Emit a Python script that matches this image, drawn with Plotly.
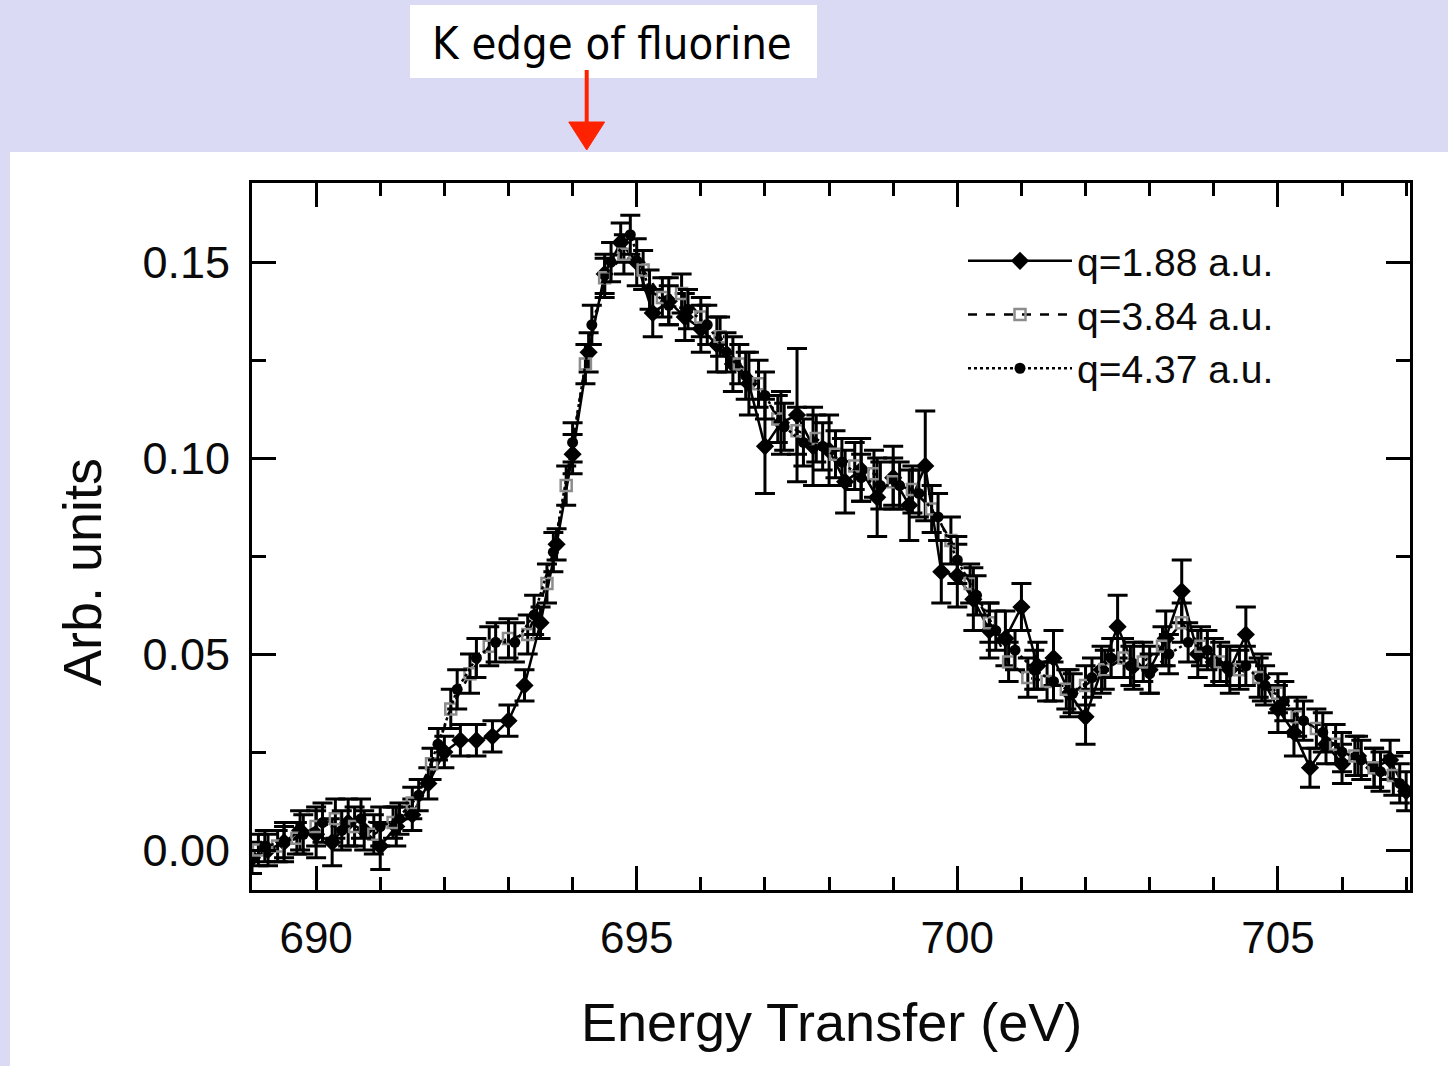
import plotly.graph_objects as go

# ---- spectra: energy transfer (eV), intensity (arb. units), 1-sigma errors ----
energy_q188 = [689.00, 689.25, 689.50, 689.75, 690.00, 690.25, 690.50, 690.75, 691.00, 691.25,
               691.50, 691.75, 692.00, 692.25, 692.50, 692.75, 693.00, 693.25, 693.50, 693.75,
               694.00, 694.25, 694.50, 694.75, 695.00, 695.25, 695.50, 695.75, 696.00, 696.25,
               696.50, 696.75, 697.00, 697.25, 697.50, 697.75, 698.00, 698.25, 698.50, 698.75,
               699.00, 699.25, 699.50, 699.75, 700.00, 700.25, 700.50, 700.75, 701.00, 701.25,
               701.50, 701.75, 702.00, 702.25, 702.50, 702.75, 703.00, 703.25, 703.50, 703.75,
               704.00, 704.25, 704.50, 704.75, 705.00, 705.25, 705.50, 705.75, 706.00, 706.25,
               706.50, 706.75, 707.00]
signal_q188 = [-0.002, 0.000, 0.002, 0.005, 0.004, 0.002, 0.007, 0.005, 0.001, 0.006,
               0.009, 0.017, 0.025, 0.028, 0.028, 0.029, 0.033, 0.042, 0.058, 0.078,
               0.101, 0.127, 0.147, 0.155, 0.150, 0.137, 0.140, 0.136, 0.133, 0.129,
               0.124, 0.119, 0.103, 0.109, 0.111, 0.103, 0.102, 0.094, 0.097, 0.090,
               0.095, 0.088, 0.098, 0.071, 0.070, 0.064, 0.056, 0.054, 0.062, 0.047,
               0.049, 0.040, 0.034, 0.046, 0.057, 0.047, 0.046, 0.054, 0.066, 0.050,
               0.048, 0.046, 0.055, 0.044, 0.036, 0.030, 0.021, 0.027, 0.022, 0.024,
               0.021, 0.023, 0.015]
error_q188 = [0.004, 0.004, 0.005, 0.005, 0.006, 0.006, 0.006, 0.005, 0.006, 0.005,
              0.004, 0.004, 0.004, 0.004, 0.004, 0.004, 0.004, 0.004, 0.004, 0.004,
              0.005, 0.005, 0.005, 0.005, 0.006, 0.006, 0.006, 0.006, 0.006, 0.007,
              0.007, 0.008, 0.012, 0.008, 0.017, 0.010, 0.009, 0.008, 0.008, 0.010,
              0.008, 0.009, 0.014, 0.008, 0.008, 0.008, 0.007, 0.007, 0.006, 0.006,
              0.007, 0.006, 0.007, 0.006, 0.008, 0.006, 0.006, 0.007, 0.008, 0.006,
              0.006, 0.006, 0.007, 0.006, 0.006, 0.006, 0.005, 0.005, 0.005, 0.005,
              0.005, 0.005, 0.005]

energy_q384 = [689.1, 689.4, 689.7, 690.0, 690.3, 690.6, 690.9, 691.2, 691.5, 691.8,
               692.1, 692.4, 692.7, 693.0, 693.3, 693.6, 693.9, 694.2, 694.5, 694.8,
               695.1, 695.4, 695.7, 696.0, 696.3, 696.6, 696.9, 697.2, 697.5, 697.8,
               698.1, 698.4, 698.7, 699.0, 699.3, 699.6, 699.9, 700.2, 700.5, 700.8,
               701.1, 701.4, 701.7, 702.0, 702.3, 702.6, 702.9, 703.2, 703.5, 703.8,
               704.1, 704.4, 704.7, 705.0, 705.3, 705.6, 705.9, 706.2, 706.5, 706.8]
signal_q384 = [0.000, 0.001, 0.003, 0.006, 0.008, 0.006, 0.004, 0.007, 0.012, 0.022,
               0.036, 0.045, 0.052, 0.054, 0.055, 0.068, 0.093, 0.124, 0.146, 0.152,
               0.148, 0.141, 0.142, 0.136, 0.131, 0.124, 0.119, 0.110, 0.107, 0.105,
               0.101, 0.098, 0.096, 0.094, 0.092, 0.087, 0.079, 0.068, 0.058, 0.048,
               0.044, 0.043, 0.041, 0.042, 0.046, 0.049, 0.048, 0.052, 0.058, 0.052,
               0.048, 0.046, 0.044, 0.040, 0.034, 0.031, 0.027, 0.024, 0.021, 0.019]
error_q384 = [0.004, 0.004, 0.004, 0.005, 0.005, 0.005, 0.005, 0.004, 0.004, 0.004,
              0.005, 0.005, 0.005, 0.005, 0.005, 0.005, 0.005, 0.005, 0.005, 0.005,
              0.005, 0.005, 0.005, 0.005, 0.005, 0.005, 0.006, 0.006, 0.006, 0.006,
              0.006, 0.006, 0.006, 0.006, 0.006, 0.006, 0.006, 0.005, 0.005, 0.005,
              0.005, 0.005, 0.005, 0.005, 0.005, 0.005, 0.005, 0.005, 0.005, 0.005,
              0.005, 0.005, 0.005, 0.005, 0.005, 0.005, 0.005, 0.005, 0.005, 0.005]

energy_q437 = [689.2, 689.5, 689.8, 690.1, 690.4, 690.7, 691.0, 691.3, 691.6, 691.9,
               692.2, 692.5, 692.8, 693.1, 693.4, 693.7, 694.0, 694.3, 694.6, 694.9,
               695.2, 695.5, 695.8, 696.1, 696.4, 696.7, 697.0, 697.3, 697.6, 697.9,
               698.2, 698.5, 698.8, 699.1, 699.4, 699.7, 700.0, 700.3, 700.6, 700.9,
               701.2, 701.5, 701.8, 702.1, 702.4, 702.7, 703.0, 703.3, 703.6, 703.9,
               704.2, 704.5, 704.8, 705.1, 705.4, 705.7, 706.0, 706.3, 706.6, 706.9]
signal_q437 = [0.001, 0.002, 0.004, 0.007, 0.005, 0.008, 0.006, 0.008, 0.014, 0.027,
               0.041, 0.049, 0.053, 0.053, 0.060, 0.076, 0.104, 0.134, 0.150, 0.157,
               0.143, 0.139, 0.138, 0.134, 0.127, 0.121, 0.116, 0.108, 0.104, 0.103,
               0.099, 0.095, 0.093, 0.093, 0.091, 0.085, 0.074, 0.065, 0.056, 0.051,
               0.046, 0.043, 0.040, 0.044, 0.049, 0.047, 0.045, 0.050, 0.053, 0.051,
               0.047, 0.047, 0.042, 0.038, 0.033, 0.030, 0.025, 0.023, 0.020, 0.017]
error_q437 = [0.004, 0.004, 0.005, 0.005, 0.005, 0.005, 0.005, 0.004, 0.004, 0.004,
              0.005, 0.005, 0.005, 0.005, 0.005, 0.005, 0.005, 0.005, 0.005, 0.005,
              0.005, 0.005, 0.005, 0.005, 0.005, 0.006, 0.006, 0.006, 0.006, 0.006,
              0.006, 0.006, 0.006, 0.006, 0.006, 0.006, 0.006, 0.005, 0.005, 0.005,
              0.005, 0.005, 0.005, 0.005, 0.005, 0.005, 0.005, 0.005, 0.005, 0.005,
              0.005, 0.005, 0.005, 0.005, 0.005, 0.005, 0.005, 0.005, 0.005, 0.005]

series_names = ["q=1.88 a.u.", "q=3.84 a.u.", "q=4.37 a.u."]
x_tick_values = [690, 695, 700, 705]
y_tick_values = [0.00, 0.05, 0.10, 0.15]
y_tick_labels = ["0.00", "0.05", "0.10", "0.15"]
k_edge_ev = 694.22
k_edge_label = "K edge of fluorine"

# ---- page geometry ----
W, H = 1448, 1066
ML, MR, MT, MB = 252, 38, 183, 176
PW, PH = W - ML - MR, H - MT - MB


def paper_x(px):
    return (px - ML) / PW


def paper_y(py):
    return (H - MB - py) / PH


LAVENDER = "#dadaf5"
RED = "#ff2200"
INK = "#0a0a0a"

fig = go.Figure()

styles = [
    dict(symbol="diamond", size=14, color="black", line=dict(width=0), dash="solid"),
    dict(symbol="square-open", size=11, color="#8c8c8c", line=dict(width=2.5, color="#8c8c8c"), dash="dash"),
    dict(symbol="circle", size=11, color="black", line=dict(width=0), dash="dot"),
]
datasets = [
    (energy_q188, signal_q188, error_q188),
    (energy_q384, signal_q384, error_q384),
    (energy_q437, signal_q437, error_q437),
]

for name, (xs, ys, es), st in zip(series_names, datasets, styles):
    fig.add_trace(go.Scatter(
        x=xs, y=ys, name=name, mode="lines+markers",
        line=dict(color="black", width=2.5, dash=st["dash"]),
        marker=dict(symbol=st["symbol"], size=st["size"], color=st["color"], line=st["line"]),
        error_y=dict(type="data", array=es, visible=True, color="black", thickness=3, width=10),
    ))

fig.update_xaxes(
    range=[689.0, 707.06],
    tickmode="array", tickvals=x_tick_values, ticktext=[str(v) for v in x_tick_values],
    ticks="inside", ticklen=24, tickwidth=3, tickcolor="black",
    minor=dict(dtick=1, tick0=690, ticks="inside", ticklen=13, tickwidth=3, tickcolor="black"),
    showline=True, linewidth=3, linecolor="black", mirror="allticks",
    showgrid=False, zeroline=False,
    tickfont=dict(family="Liberation Sans, Arial, sans-serif", size=44, color=INK),
    ticklabelstandoff=7,
)
fig.update_yaxes(
    range=[-0.0102, 0.1702],
    tickmode="array", tickvals=y_tick_values, ticktext=y_tick_labels,
    ticks="inside", ticklen=24, tickwidth=3, tickcolor="black",
    minor=dict(dtick=0.025, tick0=0, ticks="inside", ticklen=14, tickwidth=3, tickcolor="black"),
    showline=True, linewidth=3, linecolor="black", mirror="allticks",
    showgrid=False, zeroline=False,
    tickfont=dict(family="Liberation Sans, Arial, sans-serif", size=45, color=INK),
    ticklabelstandoff=10,
)

shapes = [
    # white panel holding the plot
    dict(type="rect", xref="paper", yref="paper", layer="below",
         x0=paper_x(10), x1=paper_x(1448), y0=paper_y(1066), y1=paper_y(152),
         fillcolor="white", line=dict(width=0)),
    # label box above the panel
    dict(type="rect", xref="paper", yref="paper",
         x0=paper_x(410), x1=paper_x(817), y0=paper_y(78), y1=paper_y(5),
         fillcolor="white", line=dict(width=0)),
    # arrow shaft pointing at the edge energy
    dict(type="line", xref="x", yref="paper",
         x0=k_edge_ev, x1=k_edge_ev, y0=paper_y(70), y1=paper_y(126),
         line=dict(color=RED, width=4)),
    # arrow head
    dict(type="path", xref="x", yref="paper",
         path=(f"M {k_edge_ev - 0.28},{paper_y(122)} L {k_edge_ev + 0.28},{paper_y(122)} "
               f"L {k_edge_ev},{paper_y(150)} Z"),
         fillcolor=RED, line=dict(color=RED, width=1)),
]

annotations = [
    dict(text=k_edge_label, xref="paper", yref="paper", x=paper_x(612), y=paper_y(43),
         xanchor="center", yanchor="middle", showarrow=False,
         font=dict(family="DejaVu Sans Condensed, DejaVu Sans, sans-serif", size=45, color="black")),
    dict(text="Energy Transfer (eV)", xref="paper", yref="paper", x=paper_x(831), y=paper_y(1022),
         xanchor="center", yanchor="middle", showarrow=False,
         font=dict(family="Liberation Sans, Arial, sans-serif", size=54, color=INK)),
    dict(text="Arb. units", xref="paper", yref="paper", x=paper_x(82), y=paper_y(572),
         xanchor="center", yanchor="middle", showarrow=False, textangle=-90,
         font=dict(family="Liberation Sans, Arial, sans-serif", size=54, color=INK)),
]

fig.update_layout(
    width=W, height=H,
    margin=dict(l=ML, r=MR, t=MT, b=MB, pad=0),
    paper_bgcolor=LAVENDER, plot_bgcolor="white",
    shapes=shapes, annotations=annotations,
    showlegend=True,
    legend=dict(x=paper_x(963), y=paper_y(229), xanchor="left", yanchor="top",
                bgcolor="rgba(0,0,0,0)", borderwidth=0,
                font=dict(family="Liberation Sans, Arial, sans-serif", size=39, color=INK),
                itemwidth=104, tracegroupgap=0),
)

fig.write_html("out.html")
